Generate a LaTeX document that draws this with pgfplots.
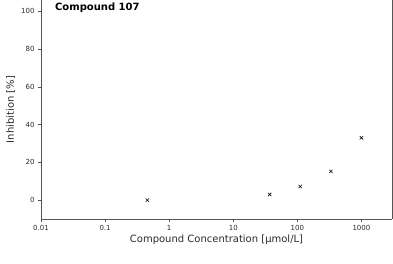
\documentclass[border=0pt]{standalone}
\usepackage{pgfplots}
\pgfplotsset{compat=1.18}
\usepackage{fontspec}
\setmainfont{DejaVu Sans}
\definecolor{txt}{HTML}{2a2a2a}
\definecolor{spine}{HTML}{555555}
\begin{document}
\begin{tikzpicture}[x=1pt,y=1pt]
\begin{axis}[
  name=ax,
  at={(0,0)}, anchor=south west,
  scale only axis,
  width=351pt, height=219pt,
  xmode=log,
  xmin=0.01, xmax=3000,
  ymin=-10, ymax=106,
  axis x line*=bottom,
  axis y line*=left,
  axis line style={spine, line width=0.6pt},
  xtick={0.01,0.1,1,10,100,1000},
  xticklabels={0.01,0.1,1,10,100,1000},
  ytick={0,20,40,60,80,100},
  xminorticks=false,
  tick align=outside,
  major tick length=3pt,
  tick style={spine, line width=0.5pt},
  ticklabel style={font=\fontsize{7}{8}\selectfont, text=txt},
  /pgf/number format/assume math mode=true,
  xlabel={Compound Concentration [µmol/L]},
  ylabel={Inhibition [\%]},
  label style={font=\fontsize{10}{11}\selectfont, text=txt},
  xlabel style={yshift=3pt},
  ylabel style={yshift=-1pt},
  clip=false,
]
\addplot[only marks, mark=x, mark size=2.4pt, black, line width=0.55pt] coordinates {
  (0.457,0) (37,3) (111,7.2) (333,15.2) (1000,33.0)
};
\node[anchor=west, inner sep=0pt, font=\bfseries\fontsize{10}{11}\selectfont] at (axis cs:0.0165,101.8) {Compound 107};
\end{axis}
\draw[spine, line width=0.6pt] (ax.south east) -- (ax.north east);
\pgfresetboundingbox
\path (ax.south west) ++(-41pt,-45pt) rectangle ++(393pt,264pt);
\end{tikzpicture}
\end{document}
